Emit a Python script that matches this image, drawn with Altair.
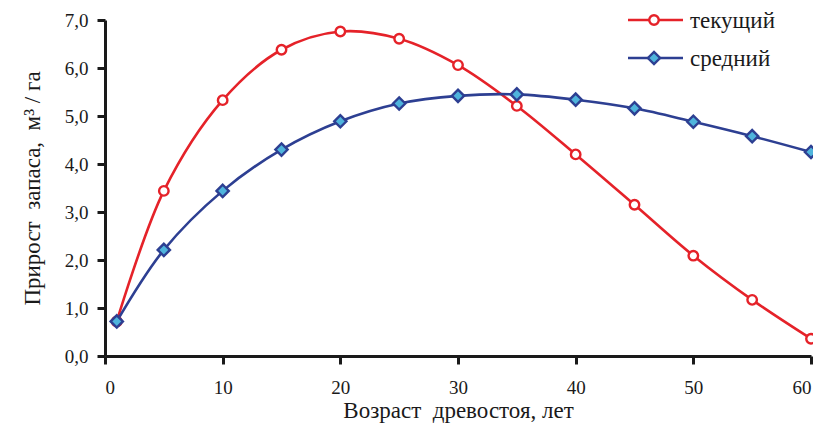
import altair as alt
import pandas as pd

age = [1, 5, 10, 15, 20, 25, 30, 35, 40, 45, 50, 55, 60]
current = [0.72, 3.44, 5.33, 6.38, 6.76, 6.61, 6.06, 5.21, 4.20, 3.15, 2.09, 1.17, 0.36]
mean = [0.72, 2.21, 3.44, 4.30, 4.89, 5.26, 5.42, 5.45, 5.34, 5.16, 4.88, 4.58, 4.25]
series_names = ["текущий", "средний"]

RED = "#e52229"
BLUE = "#2d3f92"
LIGHT = "#4fb4dc"
FONT = "Liberation Serif"
SP = "\u00a0 "

df = pd.DataFrame({"age": age * 2,
                   "val": current + mean,
                   "series": [series_names[0]] * len(age) + [series_names[1]] * len(age)})

W, H = 706, 336

x = alt.X("age:Q", scale=alt.Scale(domain=[0, 60], nice=False),
          axis=alt.Axis(values=[0, 10, 20, 30, 40, 50, 60], title="Возраст" + SP + "древостоя, лет",
                        titlePadding=2, labelPadding=14))
y = alt.Y("val:Q", scale=alt.Scale(domain=[0, 7], nice=False),
          axis=alt.Axis(values=[0, 1, 2, 3, 4, 5, 6, 7], format=".1f",
                        labelExpr="replace(datum.label, '.', ',')",
                        title="Прирост" + SP + "запаса," + SP + "м³ / га", titlePadding=20, labelPadding=9))

base = alt.Chart(df)

red_line = base.transform_filter(alt.datum.series == series_names[0]).mark_line(
    color=RED, strokeWidth=2.6, interpolate="catmull-rom").encode(x=x, y=y)
blue_line = base.transform_filter(alt.datum.series == series_names[1]).mark_line(
    color=BLUE, strokeWidth=2.6, interpolate="catmull-rom").encode(x=x, y=y)
red_pts = base.transform_filter(alt.datum.series == series_names[0]).mark_point(
    shape="circle", filled=True, fill="white", stroke=RED, strokeWidth=2.4, size=90, opacity=1
).encode(x=x, y=y)
blue_pts = base.transform_filter(alt.datum.series == series_names[1]).mark_point(
    shape="diamond", filled=True, fill=LIGHT, stroke=BLUE, strokeWidth=2.4, size=150, opacity=1
).encode(x=x, y=y)

# manual legend (top right)
leg = pd.DataFrame({"series": series_names, "row": [0, 1]})
lx0, lx1, lmx, ltx = 523, 578, 549, 585
ly = [0, 38]

legend_layers = []
for i, (name, col) in enumerate([(series_names[0], RED), (series_names[1], BLUE)]):
    d = alt.Chart(leg).transform_filter(alt.datum.row == i)
    legend_layers.append(d.mark_rule(color=col, strokeWidth=2.6).encode(
        x=alt.value(lx0), x2=alt.value(lx1), y=alt.value(ly[i])))
    if i == 0:
        legend_layers.append(d.mark_point(shape="circle", filled=True, fill="white", stroke=RED,
                                          strokeWidth=2.4, size=90, opacity=1).encode(
            x=alt.value(lmx), y=alt.value(ly[i])))
    else:
        legend_layers.append(d.mark_point(shape="diamond", filled=True, fill=LIGHT, stroke=BLUE,
                                          strokeWidth=2.4, size=150, opacity=1).encode(
            x=alt.value(lmx), y=alt.value(ly[i])))
    legend_layers.append(d.mark_text(align="left", baseline="middle", font=FONT, fontSize=23,
                                     color="#1a1a1a").encode(
        x=alt.value(ltx), y=alt.value(ly[i] + 1), text="series:N"))

chart = alt.layer(red_line, blue_line, red_pts, blue_pts, *legend_layers).properties(
    width=W, height=H,
    autosize=alt.AutoSizeParams(type="none"),
    padding={"left": 97, "top": 12, "right": 2, "bottom": 67},
).configure_view(stroke=None).configure_axis(
    grid=False, domainColor="#1a1a1a", domainWidth=3, tickColor="#1a1a1a", tickWidth=3,
    tickSize=8, labelFont=FONT, labelFontSize=19, labelColor="#1a1a1a",
    titleFont=FONT, titleFontSize=23, titleFontWeight="normal", titleColor="#1a1a1a"
)

chart.save("out.html", embed_options={"renderer": "svg", "actions": False})
